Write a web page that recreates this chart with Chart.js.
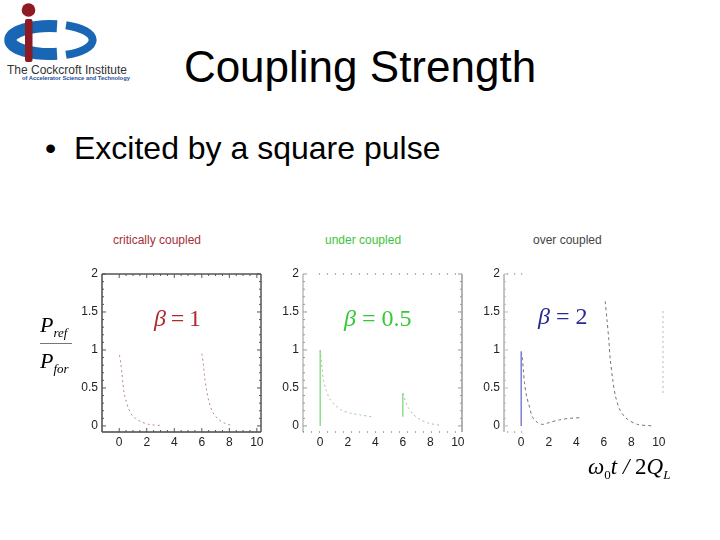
<!DOCTYPE html>
<html>
<head>
<meta charset="utf-8">
<script src="https://cdn.jsdelivr.net/npm/chart.js@4/dist/chart.umd.min.js"></script>
<style>
  html, body { margin:0; padding:0; background:#fff; }
  #page { position:relative; width:720px; height:540px; overflow:hidden; background:#fff; font-family:"Liberation Sans", Arial, sans-serif; }
  .abs { position:absolute; white-space:nowrap; }
  canvas.plot { position:absolute; }
  .serif { font-family:"Liberation Serif", "Times New Roman", serif; }
</style>
</head>
<body>
<div id="page">
  <svg class="abs" style="left:0;top:0" width="140" height="90" viewBox="0 0 140 90">
    <path d="M 57 26.2 A 40 14 0 1 0 57 53.8" fill="none" stroke="#1866b4" stroke-width="12"/>
    <path d="M 66 25.2 A 43 16 0 0 1 66 54.8" fill="none" stroke="#1866b4" stroke-width="8"/>
    <circle cx="28.5" cy="10" r="6.8" fill="#8c1b24"/>
    <rect x="25" y="19" width="7.5" height="43" rx="2" fill="#8c1b24"/>
    <text x="7" y="74" font-family="Liberation Sans, Arial" font-size="12" fill="#333">The Cockcroft Institute</text>
    <text x="22" y="80" font-family="Liberation Sans, Arial" font-size="5.8" font-weight="bold" fill="#1b4f9c">of Accelerator Science and Technology</text>
  </svg>

  <div class="abs" style="left:0;width:720px;top:42px;text-align:center;font-size:44px;color:#000;">Coupling Strength</div>
  <div class="abs" style="left:45px;top:130px;font-size:32px;color:#000;">•&nbsp;&nbsp;Excited by a square pulse</div>

  <div class="abs" style="left:113px;top:233px;font-size:12px;color:#a3303a;">critically coupled</div>
  <div class="abs" style="left:325px;top:233px;font-size:12px;color:#3cc43c;">under coupled</div>
  <div class="abs" style="left:533px;top:233px;font-size:12px;color:#444;">over coupled</div>

  <canvas id="c1" class="plot" width="210" height="195" style="left:60px;top:262px;width:210px;height:195px"></canvas>
  <canvas id="c2" class="plot" width="210" height="195" style="left:261px;top:262px;width:210px;height:195px"></canvas>
  <canvas id="c3" class="plot" width="210" height="195" style="left:462px;top:262px;width:210px;height:195px"></canvas>

  <div class="abs serif" style="left:154px;top:305px;font-size:24px;color:#b02a32;"><i>β</i>&#8201;=&#8201;1</div>
  <div class="abs serif" style="left:344px;top:305px;font-size:24px;color:#36c836;"><i>β</i> = 0.5</div>
  <div class="abs serif" style="left:538px;top:303px;font-size:24px;color:#2b2b8f;"><i>β</i> = 2</div>

  <div class="abs serif" style="left:40px;top:312px;font-size:22px;color:#000;font-style:italic;">P<span style="font-size:13px;position:relative;top:5px;">ref</span></div>
  <div class="abs" style="left:40px;top:343px;width:32px;height:1px;background:#777;"></div>
  <div class="abs serif" style="left:40px;top:348px;font-size:22px;color:#000;font-style:italic;">P<span style="font-size:13px;position:relative;top:5px;">for</span></div>

  <div class="abs serif" style="left:588px;top:454px;font-size:23px;color:#000;font-style:italic;">ω<span style="font-size:13px;position:relative;top:5px;font-style:normal;">0</span>t / <span style="font-style:normal">2</span>Q<span style="font-size:13px;position:relative;top:5px;">L</span></div>
</div>

<script>
// ---- axis ticks ----
const xTickValues = [0, 2, 4, 6, 8, 10];
const yTickValues = [0, 0.5, 1, 1.5, 2];
const xRange = [-1.25, 10.3];
const yRange = [-0.08, 2.0];

// ---- critically coupled (beta = 1) ----
const critOnT  = [0.02, 0.12, 0.20, 0.27, 0.36, 0.51, 0.68, 0.93, 1.17, 1.53, 2.14, 3.1];
const critOnP  = [0.93, 0.82, 0.69, 0.56, 0.43, 0.32, 0.23, 0.14, 0.10, 0.06, 0.02, 0.005];
const critOffT = [6.0, 6.11, 6.2, 6.35, 6.52, 6.77, 7.13, 7.6, 8.1];
const critOffP = [0.95, 0.82, 0.65, 0.47, 0.32, 0.19, 0.10, 0.04, 0.01];

// ---- under coupled (beta = 0.5) ----
const underJumpOnT  = [0, 0];
const underJumpOnP  = [0, 1.0];
const underOnT      = [0, 0.07, 0.15, 0.24, 0.44, 0.68, 1.05, 1.54, 2.15, 2.9, 3.75];
const underOnP      = [1.0, 0.87, 0.74, 0.6, 0.47, 0.36, 0.28, 0.21, 0.17, 0.145, 0.12];
const underJumpOffT = [6.0, 6.0];
const underJumpOffP = [0.12, 0.43];
const underOffT     = [6.03, 6.2, 6.44, 6.8, 7.3, 7.9, 8.65];
const underOffP     = [0.43, 0.32, 0.23, 0.145, 0.08, 0.035, 0.01];

// ---- over coupled (beta = 2) ----
const overJumpOnT = [0, 0];
const overJumpOnP = [0, 0.98];
const overOnT  = [0, 0.1, 0.15, 0.24, 0.39, 0.56, 0.81, 1.18, 1.55, 2.04, 2.78, 3.52, 4.4];
const overOnP  = [0.98, 0.875, 0.74, 0.57, 0.39, 0.28, 0.12, 0.045, 0.02, 0.045, 0.08, 0.10, 0.11];
const overOffT = [6.1, 6.23, 6.36, 6.47, 6.65, 6.85, 7.2, 7.7, 8.45, 9.55];
const overOffP = [1.64, 1.40, 1.14, 0.875, 0.61, 0.39, 0.20, 0.09, 0.02, 0.0];

function pts(t, p) { return t.map((v, i) => ({ x: v, y: p[i] })); }

function ds(t, p, color, dash, width) {
  return { data: pts(t, p), showLine: true, borderColor: color, borderWidth: width || 1,
           borderDash: dash || [], pointRadius: 0, fill: false, tension: 0.3 };
}

// frame / tick plugin (styling only)
const framePlugin = {
  id: 'frame',
  afterDraw(chart, args, opts) {
    const { ctx, chartArea: a, scales } = chart;
    ctx.save();
    (opts.segments || []).forEach(s => {
      ctx.beginPath();
      ctx.strokeStyle = s.color; ctx.lineWidth = s.width; ctx.setLineDash(s.dash || []);
      const f0 = s.from ?? 0, f1 = s.to ?? 1;
      if (s.edge === 'top' || s.edge === 'bottom') {
        const y = s.edge === 'top' ? a.top : a.bottom;
        ctx.moveTo(a.left + (a.right - a.left) * f0, y); ctx.lineTo(a.left + (a.right - a.left) * f1, y);
      } else {
        const x = s.edge === 'left' ? a.left : a.right;
        ctx.moveTo(x, a.bottom - (a.bottom - a.top) * f0); ctx.lineTo(x, a.bottom - (a.bottom - a.top) * f1);
      }
      ctx.stroke();
    });
    ctx.setLineDash([]);
    const tk = opts.ticks;
    if (tk) {
      ctx.strokeStyle = tk.color; ctx.lineWidth = 1;
      const draw = (x1, y1, x2, y2) => { ctx.beginPath(); ctx.moveTo(x1, y1); ctx.lineTo(x2, y2); ctx.stroke(); };
      const yMinor = [], xMinor = [];
      for (let v = 0; v <= 2.0001; v += 0.1) yMinor.push(v);
      for (let v = 0; v <= 10.0001; v += 0.5) xMinor.push(v);
      yMinor.forEach(v => {
        const y = scales.y.getPixelForValue(v);
        const major = yTickValues.some(m => Math.abs(m - v) < 1e-6);
        const L = major ? 4 : 2;
        if (tk.left)  draw(a.left, y, a.left + L, y);
        if (tk.right) draw(a.right, y, a.right - L, y);
      });
      xMinor.forEach(v => {
        const x = scales.x.getPixelForValue(v);
        const major = xTickValues.includes(v);
        const L = major ? 4 : 2;
        if (tk.bottom) draw(x, a.bottom, x, a.bottom - L);
        if (tk.top)    draw(x, a.top, x, a.top + L);
      });
    }
    ctx.restore();
  }
};

function makeChart(id, datasets, frameOpts) {
  new Chart(document.getElementById(id), {
    type: 'scatter',
    data: { datasets },
    plugins: [framePlugin],
    options: {
      responsive: false, animation: false, devicePixelRatio: 1,
      layout: { padding: { top: 12, right: 9, left: 0, bottom: 0 } },
      plugins: { legend: { display: false }, tooltip: { enabled: false }, frame: frameOpts },
      scales: {
        x: {
          type: 'linear', min: xRange[0], max: xRange[1],
          afterBuildTicks: s => { s.ticks = xTickValues.map(v => ({ value: v })); },
          afterFit: s => { s.height = 25; },
          grid: { display: false, drawTicks: false },
          border: { display: false },
          ticks: { font: { size: 12, family: 'Liberation Sans' }, color: '#222', padding: 3, maxRotation: 0, autoSkip: false }
        },
        y: {
          type: 'linear', min: yRange[0], max: yRange[1],
          afterBuildTicks: s => { s.ticks = yTickValues.map(v => ({ value: v })); },
          afterFit: s => { s.width = 42; },
          grid: { display: false, drawTicks: false },
          border: { display: false },
          ticks: { font: { size: 12, family: 'Liberation Sans' }, color: '#222', padding: 4, autoSkip: false,
                   callback: v => String(v) }
        }
      }
    }
  });
}

makeChart('c1', [
  ds(critOnT, critOnP, '#b88a8c', [2, 3]),
  ds(critOffT, critOffP, '#b88a8c', [2, 3])
], {
  segments: [
    { edge: 'left', color: '#777', width: 2 },
    { edge: 'bottom', color: '#444', width: 1.5 },
    { edge: 'top', color: '#555', width: 1.5 },
    { edge: 'right', color: '#555', width: 1.5 }
  ],
  ticks: { color: '#555', left: true, right: true, bottom: true, top: true }
});

makeChart('c2', [
  ds(underJumpOnT, underJumpOnP, '#8fdc8f', [], 1.5),
  ds(underOnT, underOnP, '#9cc69c', [2, 3]),
  ds(underJumpOffT, underJumpOffP, '#8fdc8f', [], 1.5),
  ds(underOffT, underOffP, '#9cc69c', [2, 3])
], {
  segments: [
    { edge: 'left', color: '#999', width: 1 },
    { edge: 'right', color: '#666', width: 1 },
    { edge: 'top', color: '#555', width: 1, dash: [1, 7], from: 0.1 },
    { edge: 'bottom', color: '#555', width: 1, dash: [1, 7] }
  ],
  ticks: { color: '#999', left: true, right: true }
});

makeChart('c3', [
  ds(overJumpOnT, overJumpOnP, '#7f7fd0', [], 1.5),
  ds(overOnT, overOnP, '#707088', [3, 3]),
  ds(overOffT, overOffP, '#707088', [3, 3])
], {
  segments: [
    { edge: 'left', color: '#888', width: 1 },
    { edge: 'top', color: '#555', width: 1, dash: [1, 6], from: 0.02, to: 0.14 },
    { edge: 'bottom', color: '#555', width: 1, dash: [1, 6], from: 0.02, to: 0.12 },
    { edge: 'right', color: '#777', width: 1, dash: [1, 4], from: 0.25, to: 0.78 }
  ],
  ticks: { color: '#bbb', left: true }
});
</script>
</body>
</html>
